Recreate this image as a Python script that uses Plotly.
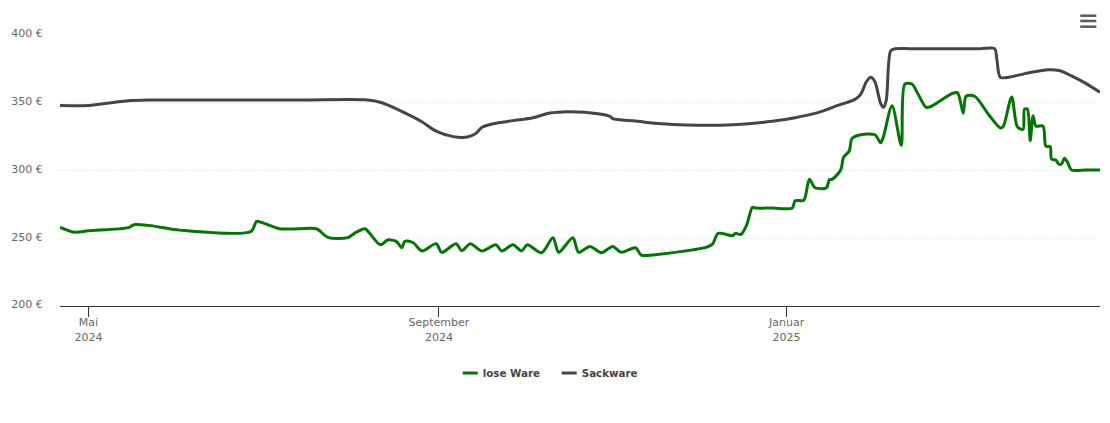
import plotly.graph_objects as go

# Daten
lose_tage = [
    '2024-04-21', '2024-04-26', '2024-05-01', '2024-05-15', '2024-05-17', '2024-05-22', '2024-06-02',
    '2024-06-27', '2024-06-29', '2024-07-01', '2024-07-07', '2024-07-14', '2024-07-20', '2024-07-24', '2024-07-31',
    '2024-08-03', '2024-08-06', '2024-08-07', '2024-08-11', '2024-08-12', '2024-08-14', '2024-08-17',
    '2024-08-19', '2024-08-20', '2024-08-23', '2024-08-26', '2024-08-31', '2024-09-02', '2024-09-07',
    '2024-09-09', '2024-09-12', '2024-09-16', '2024-09-21', '2024-09-23', '2024-09-27', '2024-09-30',
    '2024-10-02', '2024-10-07', '2024-10-11', '2024-10-13', '2024-10-18', '2024-10-20', '2024-10-24',
    '2024-10-28', '2024-11-01', '2024-11-04', '2024-11-09', '2024-11-11', '2024-11-16', '2024-12-04',
    '2024-12-06', '2024-12-08', '2024-12-13', '2024-12-14', '2024-12-16', '2024-12-18', '2024-12-20',
    '2024-12-21', '2024-12-27', '2025-01-03', '2025-01-04', '2025-01-07', '2025-01-09', '2025-01-11', '2025-01-15',
    '2025-01-16', '2025-01-17', '2025-01-20', '2025-01-21', '2025-01-23', '2025-01-24', '2025-01-27',
    '2025-02-01', '2025-02-03', '2025-02-04', '2025-02-07', '2025-02-10 06:00', '2025-02-11 12:00', '2025-02-14',
    '2025-02-16', '2025-02-19', '2025-02-21', '2025-02-28', '2025-03-02', '2025-03-04', '2025-03-05',
    '2025-03-08', '2025-03-13', '2025-03-17', '2025-03-18', '2025-03-21', '2025-03-23', '2025-03-25',
    '2025-03-25 12:00', '2025-03-26 12:00', '2025-03-27 12:00', '2025-03-28 12:00', '2025-03-29 12:00',
    '2025-04-01', '2025-04-02', '2025-04-03 12:00', '2025-04-04', '2025-04-05 12:00', '2025-04-06 12:00',
    '2025-04-07 12:00', '2025-04-08 12:00', '2025-04-09 12:00', '2025-04-11', '2025-04-16', '2025-04-21',
]
lose_ware = [
    258, 254.5, 255.5, 257.8, 260, 259.5, 256,
    255, 262.5, 261.5, 257, 257, 257, 250.7, 250.5,
    254.5, 257, 255.3, 245.7, 245.5, 248.7, 247.7,
    243, 247.7, 246.7, 240.6, 246, 239.6, 246,
    240.8, 246, 240.6, 245.2, 240.6, 245.2, 240.6,
    245.2, 239.3, 250.4, 239.6, 250.4, 239.6, 244,
    239.3, 244, 239.6, 243, 237.6, 237.9, 243.5,
    245.7, 253.6, 251.9, 253.6, 252.9, 259.8, 272.8,
    272.3, 272.3, 272.3, 277.7, 278, 293.5, 287.3, 287.3,
    293.2, 293.5, 300.4, 309.7, 314.4, 323.7, 326.4,
    326.4, 320.5, 325, 347.8, 318.6, 363.8, 363.8,
    357, 346.6, 347.6, 356.7, 357.4, 342.2, 354.8,
    354.8, 341, 331.4, 332.3, 354.2, 332.3, 330.4,
    345.2, 345.4, 322, 340.4, 332.8,
    332.8, 318, 317.6, 308.5, 307.7, 304.8,
    304.8, 309, 306.5, 300.4, 300.4, 300.4,
]

sack_tage = [
    '2024-04-21', '2024-05-01', '2024-05-09', '2024-05-15', '2024-05-22', '2024-06-15', '2024-07-15', '2024-08-07', '2024-08-12', '2024-08-18',
    '2024-08-26', '2024-08-31', '2024-09-06', '2024-09-11', '2024-09-14', '2024-09-16', '2024-09-20',
    '2024-09-27', '2024-10-04', '2024-10-10', '2024-10-16', '2024-10-22', '2024-10-31', '2024-11-01',
    '2024-11-09', '2024-11-18', '2024-11-27', '2024-12-06', '2024-12-15', '2024-12-27', '2025-01-04',
    '2025-01-12', '2025-01-19', '2025-01-25', '2025-01-27', '2025-01-29', '2025-01-30 12:00', '2025-02-01',
    '2025-02-03', '2025-02-04', '2025-02-05', '2025-02-06 12:00', '2025-02-08', '2025-02-14', '2025-03-10', '2025-03-15', '2025-03-15 18:00',
    '2025-03-17', '2025-03-20', '2025-03-26', '2025-04-03', '2025-04-07', '2025-04-11', '2025-04-16',
    '2025-04-21',
]
sackware = [
    348, 348, 350, 351.5, 352, 352, 352, 352, 350, 344.6,
    336, 329, 325, 324.7, 327.4, 331.8, 334.5,
    336.8, 339, 342.4, 343.4, 343, 340, 338.2,
    336.5, 334.5, 333.6, 333.4, 334, 336.3, 339,
    342.7, 348, 352.5, 356.2, 365.5, 368.8, 365.5,
    349.6, 346.6, 352, 388.2, 389.9, 389.9, 389.9, 389.9, 383,
    368.8, 368.8, 371.7, 374.4, 373.6, 369.8, 364.3,
    357.7,
]

x_ticks = ['2024-05-01', '2024-09-01', '2025-01-01']
x_labels = ['Mai<br>2024', 'September<br>2024', 'Januar<br>2025']
y_ticks = [200, 250, 300, 350, 400]
y_labels = ['200 €', '250 €', '300 €', '350 €', '400 €']

fig = go.Figure()

fig.add_trace(go.Scatter(
    x=lose_tage,
    y=lose_ware,
    mode='lines',
    line=dict(color='#037506', width=3, shape='spline', smoothing=0.8),
    name='lose Ware',
    cliponaxis=False,
))
fig.add_trace(go.Scatter(
    x=sack_tage,
    y=sackware,
    mode='lines',
    line=dict(color='#454545', width=3, shape='spline', smoothing=0.8),
    name='Sackware',
    cliponaxis=False,
))

fig.update_layout(
    width=1110,
    height=423,
    margin=dict(l=60, r=10, t=35, b=117),
    paper_bgcolor='white',
    plot_bgcolor='white',
    showlegend=True,
    font=dict(family='DejaVu Sans', size=11, color='#666666'),
    legend=dict(
        orientation='h',
        x=0.368,
        y=-0.247,
        xanchor='left',
        yanchor='middle',
        font=dict(family='DejaVu Sans', size=10.3, color='#444444', weight=700),
        itemwidth=30,
        entrywidth=54,
        entrywidthmode='pixels',
    ),
)

fig.update_xaxes(
    range=['2024-04-21', '2025-04-21'],
    tickmode='array',
    tickvals=x_ticks,
    ticktext=x_labels,
    ticks='outside',
    ticklen=10,
    tickwidth=1,
    tickcolor='#333333',
    ticklabelstandoff=-4,
    showline=True,
    linecolor='#333333',
    linewidth=1,
    showgrid=False,
    zeroline=False,
)
fig.update_yaxes(
    range=[200, 400],
    tickmode='array',
    tickvals=y_ticks,
    ticktext=y_labels,
    ticks='outside',
    ticklen=14,
    tickcolor='rgba(0,0,0,0)',
    showgrid=True,
    gridcolor='#e0e0e0',
    griddash='1px,2px',
    gridwidth=1,
    zeroline=False,
    showline=False,
)

# Menü-Symbol oben rechts
for hoehe in [1.0712, 1.0517, 1.0306]:
    fig.add_shape(
        type='line', xref='paper', yref='paper',
        x0=0.981, x1=0.9965, y0=hoehe, y1=hoehe,
        line=dict(color='#5a5a5a', width=2.5),
    )

# kurze Legendenlinien, y-Beschriftung etwas höher
nachlauf = """
document.body.style.margin='0';
document.body.style.overflow='hidden';
document.querySelectorAll('.legendlines path').forEach(function (p) { p.setAttribute('d', 'M20,0h15'); });
document.querySelectorAll('.ytick text').forEach(function (t) { t.setAttribute('y', parseFloat(t.getAttribute('y')) - 1.5); });
"""

fig.write_html('out.html', config=dict(displayModeBar=False), post_script=nachlauf)
